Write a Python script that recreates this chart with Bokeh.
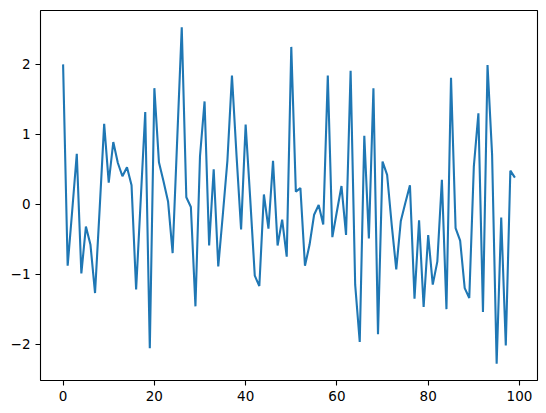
from bokeh.plotting import figure
from bokeh.models import FixedTicker, Range1d
from bokeh.embed import file_html
from bokeh.resources import INLINE

x_values = list(range(100))
y_values = [
    2.00, -0.88, -0.09, 0.72, -0.99, -0.32, -0.58, -1.27, -0.08, 1.15,
    0.31, 0.89, 0.59, 0.40, 0.53, 0.27, -1.22, 0.05, 1.32, -2.06,
    1.66, 0.60, 0.33, 0.04, -0.70, 0.92, 2.53, 0.10, -0.04, -1.46,
    0.69, 1.47, -0.59, 0.50, -0.89, -0.15, 0.62, 1.84, 0.70, -0.36,
    1.14, 0.08, -1.02, -1.17, 0.14, -0.35, 0.62, -0.59, -0.22, -0.75,
    2.25, 0.18, 0.23, -0.88, -0.58, -0.15, -0.01, -0.29, 1.84, -0.47,
    -0.10, 0.26, -0.44, 1.91, -1.15, -1.97, 0.98, -0.49, 1.66, -1.86,
    0.61, 0.42, -0.29, -0.93, -0.24, 0.02, 0.27, -1.35, -0.23, -1.47,
    -0.44, -1.15, -0.82, 0.35, -1.50, 1.81, -0.34, -0.52, -1.20, -1.34,
    0.54, 1.30, -1.54, 1.99, 0.71, -2.28, -0.19, -2.02, 0.48, 0.38,
]
x_ticks = [0, 20, 40, 60, 80, 100]
y_ticks = [-2, -1, 0, 1, 2]

xmin, xmax = min(x_values), max(x_values)
ymin, ymax = min(y_values), max(y_values)
mx = 0.05 * (xmax - xmin)
my = 0.05 * (ymax - ymin)

p = figure(width=546, height=413, output_backend="svg", toolbar_location=None,
           x_range=Range1d(xmin - mx, xmax + mx), y_range=Range1d(ymin - my, ymax + my),
           min_border_left=40, min_border_right=9, min_border_top=10, min_border_bottom=33)
p.line(x_values, y_values, line_color="#1f77b4", line_width=2.1)

p.grid.visible = False
p.background_fill_color = "white"
p.border_fill_color = "white"
p.outline_line_color = "black"
p.outline_line_width = 1.1

p.xaxis.ticker = FixedTicker(ticks=x_ticks)
p.yaxis.ticker = FixedTicker(ticks=y_ticks)
p.yaxis.major_label_overrides = {t: (str(t).replace("-", "\u2212")) for t in y_ticks}
for ax in (p.xaxis, p.yaxis):
    ax.axis_line_color = None
    ax.major_tick_line_color = "black"
    ax.major_tick_line_width = 1.1
    ax.major_tick_out = 5
    ax.major_tick_in = 0
    ax.minor_tick_line_color = None
    ax.major_label_text_font = "DejaVu Sans"
    ax.major_label_text_font_size = "13.5px"
    ax.major_label_text_color = "black"
    ax.major_label_standoff = 5

open("out.html", "w").write(file_html(p, INLINE))
